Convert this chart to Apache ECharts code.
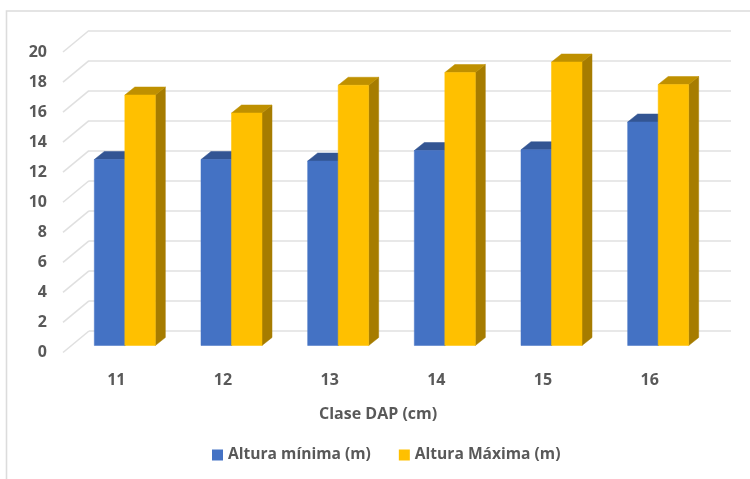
<!DOCTYPE html>
<html>
<head>
<meta charset="utf-8">
<style>html,body{margin:0;padding:0;background:#fff}#chart{width:750px;height:479px}</style>
<script src="https://cdn.jsdelivr.net/npm/echarts@6/dist/echarts.min.js"></script>
</head>
<body>
<div id="chart"></div>
<script>
const categories = ['11', '12', '13', '14', '15', '16'];
const alturaMinima = [12.4, 12.4, 12.3, 13.0, 13.05, 14.9];
const alturaMaxima = [16.7, 15.5, 17.35, 18.2, 18.9, 17.4];
const yTicks = [0, 2, 4, 6, 8, 10, 12, 14, 16, 18, 20];
const seriesNames = ['Altura mínima (m)', 'Altura Máxima (m)'];
const xTitle = 'Clase DAP (cm)';

const TEXT = '#595959';
const FONT = '"Open Sans", "Noto Sans", sans-serif';
const GRID_LINE = '#e0e0e0';
const DEPTH_X = 10, DEPTH_Y = 8;
const BAR_RATIO = 0.286;

// Extruded column: front face, lid and right-hand side
function column(side, faces) {
  return function (params, api) {
    const base = api.coord([api.value(0), 0]);
    const top = api.coord([api.value(0), api.value(1)]);
    const w = api.size([1, 0])[0] * BAR_RATIO;
    const x0 = side < 0 ? base[0] - w : base[0];
    const x1 = x0 + w;
    const poly = (points, fill) => ({
      type: 'polygon',
      shape: { points },
      style: { fill, stroke: fill, lineWidth: 0.5 }
    });
    return {
      type: 'group',
      children: [
        poly([[x1, base[1]], [x1 + DEPTH_X, base[1] - DEPTH_Y], [x1 + DEPTH_X, top[1] - DEPTH_Y], [x1, top[1]]], faces.side),
        poly([[x0, top[1]], [x0 + DEPTH_X, top[1] - DEPTH_Y], [x1 + DEPTH_X, top[1] - DEPTH_Y], [x1, top[1]]], faces.top),
        poly([[x0, base[1]], [x1, base[1]], [x1, top[1]], [x0, top[1]]], faces.front)
      ]
    };
  };
}

// Floor-to-wall diagonal running from each tick label to the back wall
function wallDiagonal(params, api) {
  const p = api.coord([0, api.value(0)]);
  return {
    type: 'line',
    shape: { x1: p[0], y1: p[1], x2: p[0] - 26, y2: p[1] + 21.5 },
    style: { stroke: GRID_LINE, lineWidth: 1.6 }
  };
}

const chart = echarts.init(document.getElementById('chart'), null, { renderer: 'canvas' });
chart.setOption({
  backgroundColor: '#fff',
  animation: false,
  textStyle: { fontFamily: FONT },
  title: {
    text: xTitle,
    left: 314,
    top: 401,
    textStyle: { color: TEXT, fontSize: 16, fontWeight: 'bold', fontFamily: FONT }
  },
  legend: {
    left: 207,
    top: 442,
    itemWidth: 11,
    itemHeight: 11,
    itemGap: 28,
    icon: 'rect',
    data: seriesNames,
    textStyle: { color: TEXT, fontSize: 15.6, fontWeight: 'bold', fontFamily: FONT, padding: [0, 0, 0, 0] }
  },
  grid: [
    { left: 89, width: 642, top: 30.5, height: 300.5 },   // back wall
    { left: 63, width: 640, top: 52, height: 300 },       // axis plane
    { left: 71.5, width: 640, top: 45.5, height: 300 }    // column plane
  ],
  xAxis: [
    { gridIndex: 0, type: 'value', min: 0, max: 1, show: false },
    {
      gridIndex: 1, type: 'category', data: categories,
      axisLine: { show: false }, axisTick: { show: false },
      axisLabel: { color: TEXT, fontSize: 16, fontWeight: 'bold', fontFamily: FONT, margin: 20 }
    },
    { gridIndex: 2, type: 'category', data: categories, show: false }
  ],
  yAxis: [
    {
      gridIndex: 0, type: 'value', min: 0, max: 20, interval: 2,
      axisLine: { show: false }, axisTick: { show: false }, axisLabel: { show: false },
      splitLine: { show: true, lineStyle: { color: GRID_LINE, width: 1.6 } }
    },
    {
      gridIndex: 1, type: 'value', min: 0, max: 20, interval: 2,
      axisLine: { show: false }, axisTick: { show: false }, splitLine: { show: false },
      axisLabel: { color: TEXT, fontSize: 16, fontWeight: 'bold', fontFamily: FONT, margin: 16 }
    },
    { gridIndex: 2, type: 'value', min: 0, max: 20, interval: 2, show: false }
  ],
  series: [
    {
      type: 'custom', xAxisIndex: 0, yAxisIndex: 0, silent: true, z: 1,
      encode: { x: 1, y: 0 },
      renderItem: wallDiagonal,
      data: yTicks.map(v => [v, 0])
    },
    {
      name: seriesNames[0], type: 'custom', xAxisIndex: 2, yAxisIndex: 2, z: 3,
      itemStyle: { color: '#4472C4' },
      encode: { x: 0, y: 1 },
      renderItem: column(-1, { front: '#4472C4', top: '#335593', side: '#2F5597' }),
      data: alturaMinima.map((v, i) => [i, v])
    },
    {
      name: seriesNames[1], type: 'custom', xAxisIndex: 2, yAxisIndex: 2, z: 4,
      itemStyle: { color: '#FFC000' },
      encode: { x: 0, y: 1 },
      renderItem: column(1, { front: '#FFC000', top: '#BF9000', side: '#A67C00' }),
      data: alturaMaxima.map((v, i) => [i, v])
    }
  ],
  graphic: [{
    type: 'polyline',
    shape: { points: [[6.5, 479], [6.5, 11], [750, 11]] },
    style: { stroke: '#dcdcdc', lineWidth: 1.6, fill: null },
    silent: true
  }]
});
</script>
</body>
</html>
